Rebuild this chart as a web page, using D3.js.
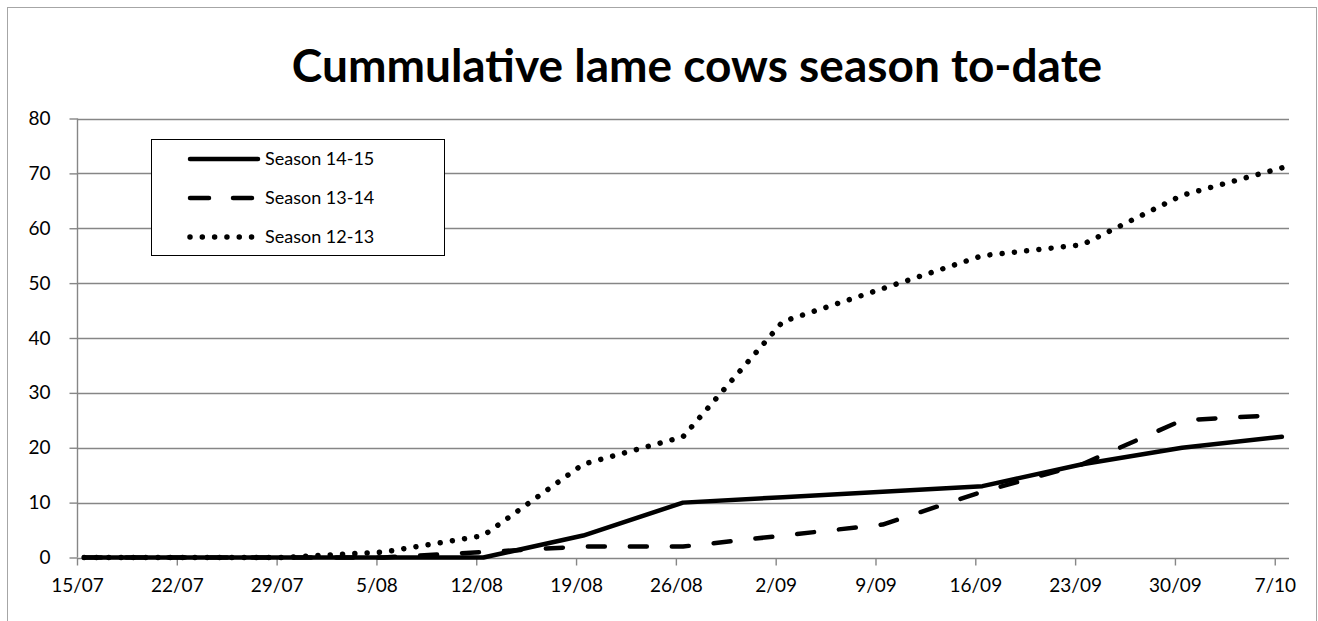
<!DOCTYPE html>
<html>
<head>
<meta charset="utf-8">
<script src="https://cdn.jsdelivr.net/npm/d3@7"></script>
<style>
  html, body { margin: 0; padding: 0; background: #fff; }
  svg { display: block; font-family: Lato, "Open Sans", sans-serif; }
</style>
</head>
<body>
<svg id="chart" width="1318" height="621"></svg>
<script>
// Weekly recording dates (day/month, 2014 season)
const dates = ["2014-07-15", "2014-07-22", "2014-07-29", "2014-08-05", "2014-08-12",
               "2014-08-19", "2014-08-26", "2014-09-02", "2014-09-09", "2014-09-16",
               "2014-09-23", "2014-09-30", "2014-10-07"];

// Cumulative lame cows per season
const season1415 = [0, 0, 0, 0, 0, 4, 10, 11, 12, 13, 17, 20, 22];
const season1314 = [0, 0, 0, 0, 1, 2, 2, 4, 6, 12, 17, 25, 26];
const season1213 = [0, 0, 0, 1, 4, 17, 22, 43, 49, 55, 57, 66, 71];

const seriesNames = ["Season 14-15", "Season 13-14", "Season 12-13"];
const yTicks = [0, 10, 20, 30, 40, 50, 60, 70, 80];
const titleText = "Cummulative lame cows season to-date";

const parse = d3.utcParse("%Y-%m-%d");
const days = dates.map(parse);

const svg = d3.select("#chart");

// chart frame
svg.append("rect")
  .attr("x", 7.5).attr("y", 7.5)
  .attr("width", 1309).attr("height", 700)
  .attr("fill", "#fff").attr("stroke", "#a6a6a6").attr("stroke-width", 1);

// date axis runs one day past the last record; each record sits mid-day
const xStart = days[0];
const xEnd = d3.utcDay.offset(days[days.length - 1], 1);
const x = d3.scaleUtc().domain([xStart, xEnd]).range([77, 1289]);
const y = d3.scaleLinear().domain([0, 80]).range([557.5, 118.5]);

const gridColor = "#868686";

// horizontal gridlines
svg.append("g")
  .selectAll("line")
  .data(yTicks.filter(v => v > 0))
  .join("line")
  .attr("x1", 77).attr("x2", 1289)
  .attr("y1", d => Math.round(y(d)) + 0.5)
  .attr("y2", d => Math.round(y(d)) + 0.5)
  .attr("stroke", gridColor).attr("stroke-width", 1.4);

// y axis
const yAxis = svg.append("g")
  .attr("transform", "translate(77.5,0)")
  .call(d3.axisLeft(y).tickValues(yTicks).tickSize(8).tickPadding(19).tickFormat(d3.format("d")));
yAxis.select(".domain").attr("stroke", gridColor).attr("stroke-width", 1.4)
  .attr("d", `M0,${y(80)}V${y(0)}`);
yAxis.selectAll(".tick line").attr("stroke", gridColor).attr("stroke-width", 1.4);
yAxis.selectAll(".tick text")
  .attr("font-family", "Lato, sans-serif")
  .attr("font-size", 19).attr("fill", "#000");

// x axis with weekly ticks
const xTicks = d3.range(days.length).map(i => d3.utcDay.offset(xStart, 7 * i));
const xAxis = svg.append("g")
  .attr("transform", `translate(0,${Math.round(y(0)) + 0.5})`)
  .call(d3.axisBottom(x).tickValues(xTicks).tickSize(7).tickPadding(13)
    .tickFormat(d3.utcFormat("%-d/%m")));
xAxis.select(".domain").attr("stroke", gridColor).attr("stroke-width", 1.4)
  .attr("d", `M${x(xStart)},0H${x(xEnd)}`);
xAxis.selectAll(".tick line").attr("stroke", gridColor).attr("stroke-width", 1.4);
xAxis.selectAll(".tick text")
  .attr("font-family", "Lato, sans-serif")
  .attr("font-size", 19).attr("fill", "#000");

// series lines
const midDay = d => d3.utcHour.offset(d, 12);
const line = d3.line()
  .x((d, i) => x(midDay(days[i])))
  .y(d => y(d));

const styles = [
  { dash: null, cap: "round" },
  { dash: "17,25", cap: "round" },
  { dash: "0.01,12.3", cap: "round" }
];
const seriesValues = [season1415, season1314, season1213];

svg.append("g")
  .selectAll("path")
  .data(seriesValues)
  .join("path")
  .attr("d", d => line(d))
  .attr("fill", "none")
  .attr("stroke", "#000")
  .attr("stroke-width", (d, i) => i === 2 ? 5.5 : 4.5)
  .attr("stroke-linejoin", "round")
  .attr("stroke-linecap", (d, i) => styles[i].cap)
  .attr("stroke-dasharray", (d, i) => styles[i].dash);

// legend
const legend = svg.append("g");
legend.append("rect")
  .attr("x", 151.5).attr("y", 139.5)
  .attr("width", 293).attr("height", 116)
  .attr("fill", "#fff").attr("stroke", "#000").attr("stroke-width", 1);

const legendRows = [159, 198, 237];
seriesNames.forEach((name, i) => {
  legend.append("line")
    .attr("x1", 190).attr("x2", 258)
    .attr("y1", legendRows[i]).attr("y2", legendRows[i])
    .attr("stroke", "#000")
    .attr("stroke-width", i === 2 ? 5.5 : 4.5)
    .attr("stroke-linecap", styles[i].cap)
    .attr("stroke-dasharray", i === 1 ? "19,24" : styles[i].dash);
  legend.append("text")
    .attr("x", 265).attr("y", legendRows[i])
    .attr("dy", "0.35em")
    .attr("font-size", 18)
    .attr("fill", "#000")
    .text(name);
});

// title
svg.append("text")
  .attr("x", 697).attr("y", 82)
  .attr("text-anchor", "middle")
  .attr("font-family", "Lato, sans-serif")
  .attr("font-weight", "bold")
  .attr("font-size", 46)
  .attr("fill", "#000")
  .text(titleText);
</script>
</body>
</html>
